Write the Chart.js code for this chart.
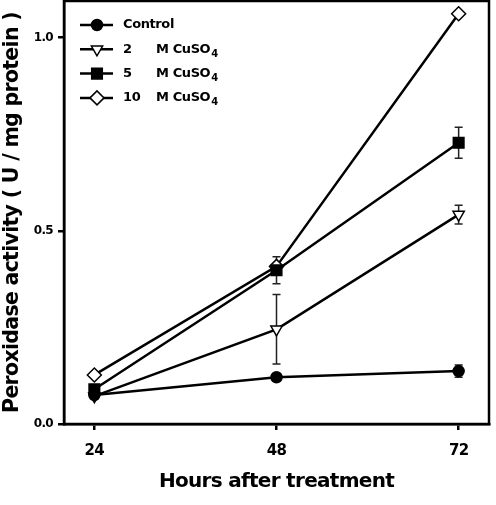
<!DOCTYPE html>
<html>
<head>
<meta charset="utf-8">
<script src="https://cdn.jsdelivr.net/npm/chart.js@4.4.1/dist/chart.umd.min.js"></script>
<style>
html,body{margin:0;padding:0;background:#fff;}
</style>
</head>
<body>
<canvas id="myChart" width="496" height="505"></canvas>
<script>
// data
var hours = [24, 48, 72];
var xTicks = [24, 48, 72];
var yTicks = [0, 0.5, 1.0];

var control = [0.075, 0.121, 0.137];
var controlErr = [0.004, 0.005, 0.016];
var cu2 = [0.072, 0.245, 0.542];
var cu2Err = [0.004, 0.09, 0.024];
var cu5 = [0.09, 0.398, 0.728];
var cu5Err = [0.008, 0.035, 0.04];
var cu10 = [0.127, 0.408, 1.062];
var cu10Err = [0.004, 0.006, 0.005];

var seriesNames = ['Control', '2', '5', '10'];
var unitText = 'M CuSO';

var FONT = 'DejaVu Sans';

function pts(vals){
	var out = [];
	for(var i in vals){
		out.push({x: hours[i], y: vals[i]});
	}
	return out;
}

var datasets = [
	{label: seriesNames[0], data: pts(control), errors: controlErr, pointStyle: 'circle', pointRadius: 5.5, pointBackgroundColor: '#000', pointRotation: 0},
	{label: seriesNames[1], data: pts(cu2), errors: cu2Err, pointStyle: 'triangle', pointRadius: 6.5, pointBackgroundColor: '#fff', pointRotation: 180},
	{label: seriesNames[2], data: pts(cu5), errors: cu5Err, pointStyle: 'rect', pointRadius: 7.5, pointBackgroundColor: '#000', pointRotation: 0},
	{label: seriesNames[3], data: pts(cu10), errors: cu10Err, pointStyle: 'rectRot', pointRadius: 7, pointBackgroundColor: '#fff', pointRotation: 0}
];
datasets.forEach(function(d){
	d.borderColor = '#000';
	d.borderWidth = 2.5;
	d.pointBorderColor = '#000';
	d.pointBorderWidth = 1.5;
	d.tension = 0;
	d.fill = false;
	d.clip = false;
});

var spacingPlugin = {
	id: 'spacing',
	beforeDraw: function(chart){
		chart.ctx.letterSpacing = '-0.7px';
	}
};

var errorBars = {
	id: 'errorBars',
	beforeDatasetsDraw: function(chart){
		var ctx = chart.ctx;
		var xs = chart.scales.x, ys = chart.scales.y;
		ctx.save();
		ctx.strokeStyle = '#222';
		ctx.lineWidth = 1.5;
		chart.data.datasets.forEach(function(ds){
			ds.data.forEach(function(p, j){
				var e = ds.errors[j];
				var x = xs.getPixelForValue(p.x);
				var y1 = ys.getPixelForValue(p.y + e);
				var y2 = ys.getPixelForValue(p.y - e);
				ctx.beginPath();
				ctx.moveTo(x, y1); ctx.lineTo(x, y2);
				ctx.moveTo(x - 4, y1); ctx.lineTo(x + 4, y1);
				ctx.moveTo(x - 4, y2); ctx.lineTo(x + 4, y2);
				ctx.stroke();
			});
		});
		ctx.restore();
	}
};

var frame = {
	id: 'frame',
	afterDraw: function(chart){
		var a = chart.chartArea, ctx = chart.ctx;
		ctx.save();
		ctx.strokeStyle = '#000';
		ctx.lineWidth = 2.5;
		ctx.strokeRect(a.left, a.top, a.right - a.left, a.bottom - a.top);
		ctx.restore();
	}
};

var legendBox = {
	id: 'legendBox',
	afterDraw: function(chart){
		var ctx = chart.ctx;
		ctx.save();
		ctx.letterSpacing = '-0.4px';
		chart.data.datasets.forEach(function(ds, i){
			var y = 25 + i * 24.3;
			ctx.strokeStyle = '#000';
			ctx.lineWidth = 2.5;
			ctx.beginPath();
			ctx.moveTo(80, y); ctx.lineTo(113, y);
			ctx.stroke();
			ctx.fillStyle = ds.pointBackgroundColor;
			ctx.lineWidth = 1.5;
			Chart.helpers.drawPoint(ctx, {pointStyle: ds.pointStyle, radius: ds.pointRadius, rotation: ds.pointRotation, borderWidth: 1.5}, 97, y);
			ctx.fillStyle = '#000';
			ctx.textBaseline = 'middle';
			ctx.font = 'bold 13px "' + FONT + '"';
			ctx.fillText(ds.label, 123, y);
			if(i > 0){
				ctx.fillText(unitText, 156, y);
				var w = ctx.measureText(unitText).width;
				ctx.font = 'bold 10px "' + FONT + '"';
				ctx.fillText('4', 156 + w + 1, y + 5);
			}
		});
		ctx.restore();
	}
};

var ctx = document.getElementById('myChart');
var chart = new Chart(ctx, {
	type: 'line',
	data: {datasets: datasets},
	plugins: [spacingPlugin, errorBars, frame, legendBox],
	options: {
		responsive: false,
		animation: false,
		devicePixelRatio: 1,
		layout: {autoPadding: false, padding: {top: 1, right: 7, bottom: 0, left: 0}},
		plugins: {legend: {display: false}, tooltip: {enabled: false}},
		scales: {
			x: {
				type: 'linear',
				min: 20,
				max: 76,
				afterBuildTicks: function(s){ s.ticks = xTicks.map(function(v){ return {value: v}; }); },
				afterFit: function(s){ s.height = 81; s.paddingLeft = 0; s.paddingRight = 0; },
				ticks: {color: '#000', padding: 12, font: {family: FONT, size: 15, weight: 'bold'}},
				grid: {drawOnChartArea: false, tickLength: 6, color: '#000', lineWidth: 2.5},
				border: {color: '#000', width: 2.5},
				title: {display: true, text: 'Hours after treatment', color: '#000', padding: {top: 0, bottom: 11}, font: {family: FONT, size: 20, weight: 'bold'}}
			},
			y: {
				min: 0,
				max: 1.095,
				afterBuildTicks: function(s){ s.ticks = yTicks.map(function(v){ return {value: v}; }); },
				afterFit: function(s){ s.width = 64; s.paddingTop = 0; s.paddingBottom = 0; },
				ticks: {color: '#000', padding: 5, font: {family: FONT, size: 12, weight: 'bold'}, callback: function(v){ return v.toFixed(1); }},
				grid: {drawOnChartArea: false, tickLength: 6, color: '#000', lineWidth: 2.5},
				border: {color: '#000', width: 2.5},
				title: {display: true, text: 'Peroxidase activity ( U / mg protein )', color: '#000', padding: 0, font: {family: FONT, size: 20.5, weight: 'bold'}}
			}
		}
	}
});
</script>
</body>
</html>
